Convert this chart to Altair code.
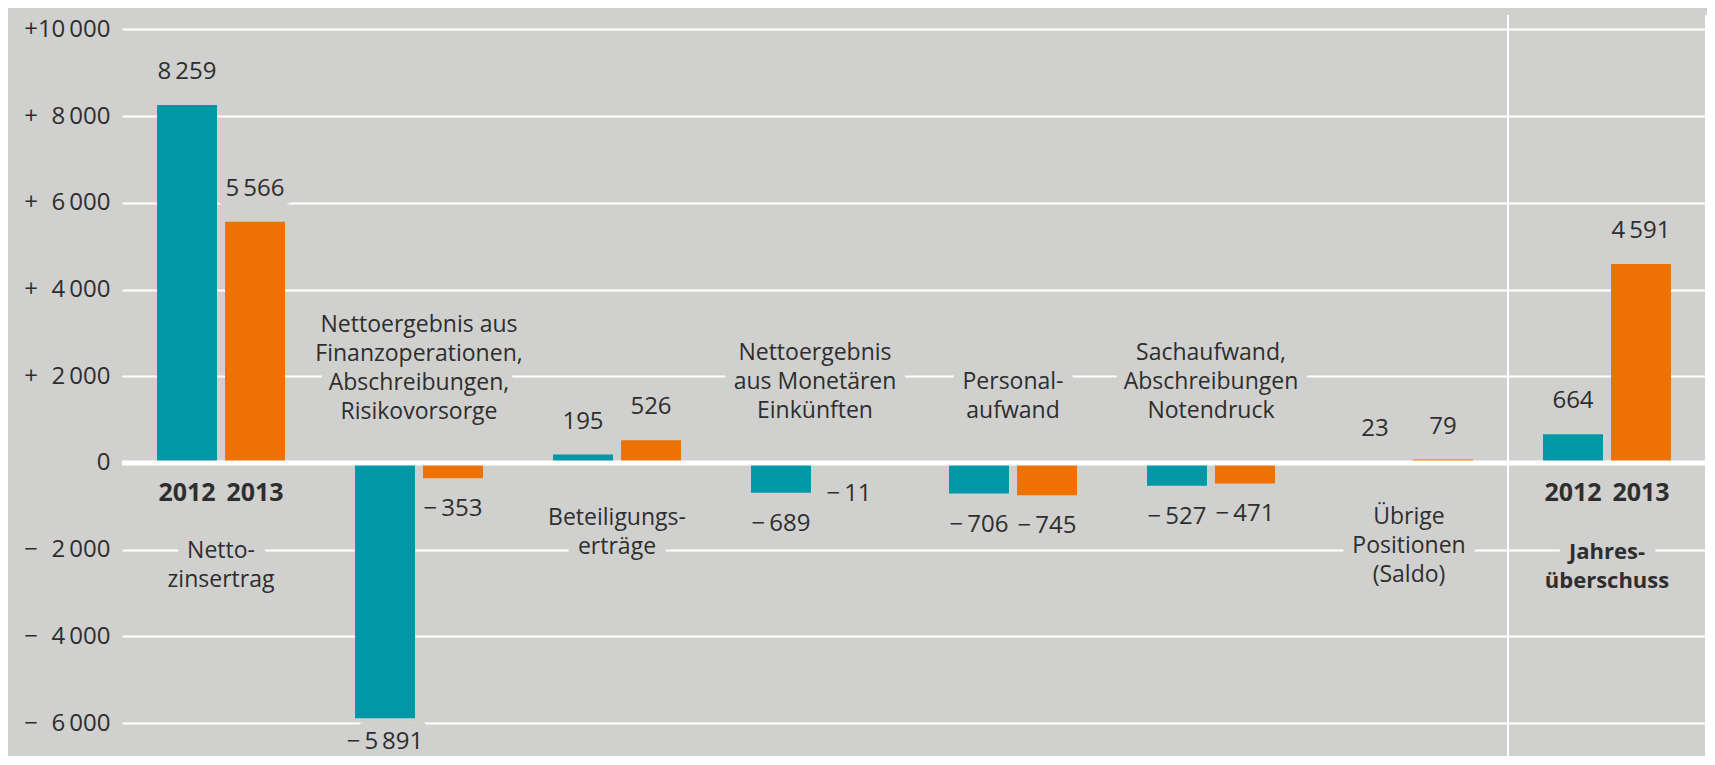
import altair as alt
import pandas as pd

# ---------------- data ----------------
categories = ["Nettozinsertrag", "Finanzoperationen", "Beteiligungserträge",
              "Monetäre Einkünfte", "Personalaufwand", "Sachaufwand",
              "Übrige Positionen", "Jahresüberschuss"]
category_labels = ["Netto-\nzinsertrag",
                   "Nettoergebnis aus\nFinanzoperationen,\nAbschreibungen,\nRisikovorsorge",
                   "Beteiligungs-\nerträge",
                   "Nettoergebnis\naus Monetären\nEinkünften",
                   "Personal-\naufwand",
                   "Sachaufwand,\nAbschreibungen\nNotendruck",
                   "Übrige\nPositionen\n(Saldo)",
                   "Jahres-\nüberschuss"]
years = ["2012", "2013"]
values_2012 = [8259, -5891, 195, -689, -706, -527, 23, 664]
values_2013 = [5566, -353, 526, -11, -745, -471, 79, 4591]
y_ticks = [-6000, -4000, -2000, 0, 2000, 4000, 6000, 8000, 10000]

# ---------------- layout (annotation anchors in data units, first text line) ----------------
label_anchor = [-2030, 3183, -1269, 2537, 1869, 2537, -1246, -2053]
year_label_anchor = -692
bold_categories = ["Jahresüberschuss"]
year_label_categories = ["Nettozinsertrag", "Jahresüberschuss"]

BG = "#d0d0cf"
TEAL = "#0097a7"
ORANGE = "#ee7203"
TXT = "#2e2e2e"
FONT = "Open Sans"
FS = 23
FS_NUM = 24
FS_AXIS = 24
FS_BOLD = 25
FS_BOLD_CAT = 22
HALO = 22


def fmt(v):
    s = f"{abs(v):,}".replace(",", "\u2009")
    return ("\u2212\u2009" + s) if v < 0 else s


rows = []
for i, c in enumerate(categories):
    for y, vals in zip(years, [values_2012, values_2013]):
        rows.append({"cat": c, "year": y, "value": vals[i], "label": fmt(vals[i])})
bars_df = pd.DataFrame(rows)

cat_df = pd.DataFrame({"cat": categories, "text": category_labels, "anchor": label_anchor})
year_df = pd.DataFrame([{"cat": c, "year": y, "anchor": year_label_anchor}
                        for c in year_label_categories for y in years])
edge_df = pd.DataFrame({"cat": ["Jahresüberschuss"]})
zero_df = pd.DataFrame({"v": [0]})

xscale = alt.Scale(domain=categories, paddingInner=0, paddingOuter=0)
yscale = alt.Scale(domain=[-6759, 10334], nice=False, zero=False)
offscale = alt.Scale(domain=years, paddingInner=0.118, paddingOuter=0.515)
colscale = alt.Scale(domain=years, range=[TEAL, ORANGE])

yaxis = alt.Axis(
    values=y_ticks,
    labelExpr="datum.value == 0 ? '0' : (datum.value > 0 ? '+' : '\u2212') + "
              "(abs(datum.value) < 10000 ? '\u2007' : '') + "
              "replace(format(abs(datum.value), ','), ',', '\u2009')",
    grid=True, gridColor="white", gridWidth=2, gridOpacity=1,
    domain=False, ticks=False, labelFontSize=FS_AXIS, labelFont=FONT,
    labelColor=TXT, labelPadding=12, title=None,
)


def X(**kw):
    return alt.X("cat:N", scale=xscale, axis=None, title=None, **kw)


def Y(field):
    return alt.Y(field, scale=yscale, axis=yaxis, title=None)


XO = alt.XOffset("year:N", scale=offscale)

base = alt.Chart(bars_df)

bars = base.mark_bar().encode(
    x=X(), xOffset=XO,
    y=Y("value:Q"),
    color=alt.Color("year:N", scale=colscale, legend=None),
)

zero = alt.Chart(zero_df).mark_rule(color="white", strokeWidth=5).encode(y=Y("v:Q"))

vline_left = alt.Chart(edge_df).mark_rule(color="white", strokeWidth=2).encode(x=X(bandPosition=0))
vline_right = alt.Chart(edge_df).mark_rule(color="white", strokeWidth=2).encode(x=X(bandPosition=1))


def pos_vals(style):
    return base.transform_filter("datum.value >= 0").mark_text(
        font=FONT, fontSize=FS_NUM, baseline="middle", align="center", dy=-33, **style
    ).encode(x=X(), xOffset=XO, y=Y("value:Q"), text="label:N")


def neg_vals(style):
    # labels below negative bars; the deepest one is lifted a little to stay inside the canvas
    return base.transform_filter("datum.value < 0 && datum.value > -5000").mark_text(
        font=FONT, fontSize=FS_NUM, baseline="middle", align="center", dy=31, **style
    ).encode(x=X(), xOffset=XO, y=Y("value:Q"), text="label:N")


def deep_vals(style):
    return base.transform_filter("datum.value <= -5000").mark_text(
        font=FONT, fontSize=FS_NUM, baseline="middle", align="center", dy=24, **style
    ).encode(x=X(), xOffset=XO, y=Y("value:Q"), text="label:N")


def cat_labels(style):
    return alt.Chart(cat_df).transform_filter(
        alt.FieldOneOfPredicate(field="cat", oneOf=[c for c in categories if c not in bold_categories])
    ).mark_text(
        font=FONT, fontSize=FS, baseline="middle", align="center",
        lineBreak="\n", lineHeight=29, **style
    ).encode(x=X(), y=Y("anchor:Q"), text="text:N")


def bold_labels(style):
    return alt.Chart(cat_df).transform_filter(
        alt.FieldOneOfPredicate(field="cat", oneOf=bold_categories)
    ).mark_text(
        font=FONT, fontSize=FS_BOLD_CAT, fontWeight="bold", baseline="middle", align="center",
        lineBreak="\n", lineHeight=29, **style
    ).encode(x=X(), y=Y("anchor:Q"), text="text:N")


def year_labels(style):
    return alt.Chart(year_df).mark_text(
        font=FONT, fontSize=FS_BOLD, fontWeight="bold", baseline="middle", align="center", **style
    ).encode(x=X(), xOffset=XO, y=Y("anchor:Q"), text="year:N")


text_fns = [pos_vals, neg_vals, deep_vals, cat_labels, bold_labels, year_labels]
halo_style = dict(stroke=BG, strokeWidth=HALO, strokeJoin="round", fill=BG)
text_style = dict(fill=TXT)

# halos knock out the gridlines only; bars, zero line and separators are drawn above them
layers = [fn(halo_style) for fn in text_fns]
layers += [bars, zero, vline_left, vline_right]
layers += [fn(text_style) for fn in text_fns]

chart = alt.layer(*layers).properties(
    width=1584, height=741,
    background=BG,
    padding={"left": 114, "top": 7, "right": 1, "bottom": 0},
    autosize=alt.AutoSizeParams(type="none"),
).configure_view(stroke=None)

chart.save("out.html", embed_options={"renderer": "svg", "actions": False})
